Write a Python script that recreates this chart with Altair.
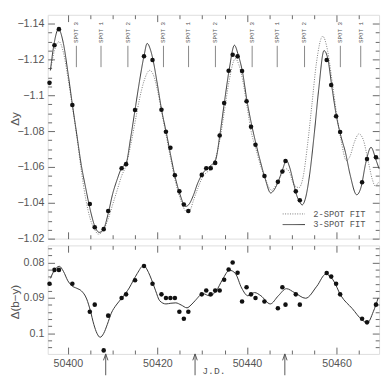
import altair as alt
import pandas as pd

# ---------------- data ----------------
obs_jd = [50395.9, 50397.0, 50398.0, 50401.0, 50404.9, 50406.0, 50408.0, 50409.0, 50412.0, 50413.0,
          50415.0, 50417.0, 50418.9, 50420.9, 50421.9, 50422.9, 50423.9, 50424.9, 50425.9, 50426.9,
          50429.9, 50430.9, 50431.9, 50432.9, 50433.9, 50434.9, 50435.9, 50436.8, 50437.9, 50438.9,
          50439.9, 50440.9, 50441.9, 50443.9, 50446.9, 50447.9, 50448.6, 50450.9, 50451.8, 50457.8,
          50458.8, 50459.9, 50460.8, 50465.7, 50466.8, 50468.8]
obs_dy = [-1.107, -1.128, -1.137, -1.0946, -1.0393, -1.0264, -1.0253, -1.0354, -1.0593, -1.0616,
          -1.0918, -1.1219, -1.1198, -1.092, -1.0797, -1.0707, -1.0554, -1.0464, -1.0391, -1.0354,
          -1.0556, -1.0593, -1.0593, -1.0623, -1.0776, -1.0957, -1.1138, -1.1227, -1.1218, -1.1136,
          -1.0967, -1.0825, -1.0724, -1.055, -1.0517, -1.0575, -1.0634, -1.0464, -1.0414, -1.1198,
          -1.1058, -1.0884, -1.0796, -1.0515, -1.0645, -1.0654]
obs_by = [0.0860, 0.0821, 0.0821, 0.0860, 0.0939, 0.0919, 0.1048, 0.0950, 0.0900, 0.0890,
          0.0850, 0.0810, 0.0860, 0.0890, 0.0900, 0.0900, 0.0900, 0.0939, 0.0959, 0.0939,
          0.0890, 0.0879, 0.0890, 0.0879, 0.0879, 0.0849, 0.0820, 0.0800, 0.0829, 0.0910,
          0.0870, 0.0890, 0.0900, 0.0910, 0.0929, 0.0870, 0.0919, 0.0890, 0.0919, 0.0830,
          0.0840, 0.0860, 0.0890, 0.0959, 0.0969, 0.0919]

# 3-spot fit (solid)
fit3_jd = [50396.1, 50397.0, 50397.9, 50399.0, 50400.0, 50401.0, 50402.0, 50403.0, 50404.0, 50405.0,
           50406.0, 50407.0, 50408.0, 50409.0, 50410.0, 50411.0, 50412.0, 50413.0, 50414.0, 50415.0,
           50416.0, 50417.0, 50417.7, 50418.5, 50419.0, 50420.0, 50421.0, 50422.0, 50423.0, 50424.0,
           50425.0, 50426.3, 50427.0, 50428.0, 50429.0, 50430.0, 50431.0, 50432.0, 50433.0, 50434.0,
           50435.0, 50436.0, 50437.2, 50438.0, 50439.0, 50440.0, 50441.0, 50442.0, 50443.0, 50444.0,
           50445.3, 50446.0, 50447.0, 50448.0, 50448.8, 50449.5, 50450.5, 50451.0, 50451.9, 50452.3,
           50453.0, 50454.0, 50455.0, 50456.0, 50457.2, 50458.0, 50459.0, 50460.0, 50461.0, 50462.0,
           50463.0, 50464.5, 50465.5, 50466.5, 50467.7, 50468.8, 50469.5]
fit3_dy = [-1.114, -1.130, -1.137, -1.129, -1.113, -1.095, -1.078, -1.061, -1.048, -1.036,
           -1.027, -1.0235, -1.0255, -1.034, -1.045, -1.053, -1.0595, -1.062, -1.076, -1.092,
           -1.108, -1.122, -1.129, -1.125, -1.120, -1.106, -1.091, -1.079, -1.066, -1.054,
           -1.045, -1.038, -1.039, -1.044, -1.051, -1.056, -1.059, -1.061, -1.064, -1.079,
           -1.097, -1.114, -1.128, -1.123, -1.113, -1.097, -1.084, -1.073, -1.063, -1.054,
           -1.0455, -1.047, -1.052, -1.059, -1.0638, -1.060, -1.050, -1.045, -1.040, -1.0388,
           -1.042, -1.056, -1.078, -1.103, -1.125, -1.121, -1.104, -1.088, -1.077, -1.068,
           -1.056, -1.0445, -1.049, -1.062, -1.071, -1.064, -1.059]

# 2-spot fit (dotted)
fit2_jd = [50396.1, 50397.0, 50398.0, 50399.0, 50400.0, 50401.0, 50402.0, 50403.0, 50404.0, 50405.0,
           50406.0, 50406.8, 50408.0, 50409.0, 50410.0, 50411.0, 50412.0, 50413.0, 50414.0, 50415.0,
           50416.0, 50417.0, 50418.3, 50419.0, 50420.0, 50421.0, 50422.0, 50423.0, 50424.0, 50425.0,
           50426.6, 50427.3, 50428.0, 50429.0, 50430.0, 50431.0, 50432.0, 50433.0, 50434.0, 50435.0,
           50436.0, 50437.4, 50438.2, 50439.0, 50440.0, 50441.0, 50442.0, 50443.0, 50444.0, 50445.5,
           50446.5, 50447.5, 50448.8, 50449.5, 50450.5, 50451.6, 50452.5, 50453.5, 50454.5, 50455.5,
           50456.9, 50458.0, 50459.0, 50460.0, 50461.0, 50462.2, 50463.0, 50464.0, 50465.0, 50466.0,
           50467.0, 50468.0, 50468.6, 50469.5]
fit2_dy = [-1.114, -1.125, -1.130, -1.124, -1.110, -1.094, -1.077, -1.058, -1.042, -1.031,
           -1.025, -1.0225, -1.025, -1.031, -1.039, -1.047, -1.055, -1.061, -1.072, -1.085,
           -1.098, -1.108, -1.114, -1.112, -1.103, -1.090, -1.077, -1.064, -1.052, -1.043,
           -1.035, -1.036, -1.041, -1.048, -1.054, -1.057, -1.059, -1.065, -1.076, -1.092,
           -1.108, -1.1205, -1.117, -1.109, -1.094, -1.079, -1.070, -1.061, -1.054, -1.047,
           -1.050, -1.055, -1.059, -1.057, -1.050, -1.0485, -1.054, -1.072, -1.095, -1.118,
           -1.133, -1.125, -1.108, -1.090, -1.075, -1.0636, -1.066, -1.074, -1.0785, -1.075,
           -1.064, -1.053, -1.0495, -1.052]

# fit of the colour index (solid)
byfit_jd = [50396.1, 50397.0, 50398.1, 50399.0, 50400.0, 50400.8, 50402.0, 50403.0, 50404.2, 50405.0,
            50405.8, 50406.5, 50407.2, 50408.0, 50408.8, 50409.7, 50410.8, 50411.9, 50413.0, 50413.7,
            50414.6, 50415.5, 50416.9, 50418.0, 50418.7, 50419.6, 50420.5, 50421.9, 50423.0, 50424.1,
            50425.3, 50426.6, 50427.5, 50428.4, 50430.2, 50431.6, 50433.1, 50434.5, 50436.1, 50437.4,
            50438.8, 50440.2, 50441.7, 50443.1, 50445.2, 50447.0, 50448.8, 50450.6, 50453.1, 50455.6,
            50457.6, 50459.2, 50461.0, 50463.5, 50465.7, 50466.9, 50468.2, 50469.3]
byfit_val = [0.0845, 0.0822, 0.0811, 0.0825, 0.0852, 0.0865, 0.0873, 0.0880, 0.0903, 0.0935,
             0.0975, 0.1000, 0.1011, 0.1000, 0.0975, 0.0943, 0.0920, 0.0903, 0.0885, 0.0872,
             0.0851, 0.0831, 0.0809, 0.0828, 0.0849, 0.0880, 0.0908, 0.0917, 0.0915, 0.0914,
             0.0920, 0.0928, 0.0920, 0.0908, 0.0888, 0.0894, 0.0881, 0.0849, 0.0822, 0.0831,
             0.0872, 0.0894, 0.0885, 0.0894, 0.0917, 0.0894, 0.0874, 0.0885, 0.0901, 0.0867,
             0.0833, 0.0849, 0.0894, 0.0930, 0.0962, 0.0970, 0.0939, 0.0900]

spot_names = ["SPOT 3", "SPOT 1", "SPOT 2", "SPOT 3", "SPOT 1", "SPOT 2",
              "SPOT 3", "SPOT 1", "SPOT 2", "SPOT 3", "SPOT 1"]
spot_jd = [50401.9, 50407.4, 50413.4, 50421.35, 50426.95, 50432.95,
           50441.15, 50446.75, 50452.85, 50460.85, 50465.4]

arrow_jd = [50408.45, 50428.4, 50448.45]

fit_names = ["2-SPOT FIT", "3-SPOT FIT"]

x_labels = [50400, 50420, 50440, 50460]
x_ticks = [50400, 50405, 50410, 50415, 50420, 50425, 50430, 50435, 50440, 50445,
           50450, 50455, 50460, 50465]
dy_labels = [-1.14, -1.12, -1.1, -1.08, -1.06, -1.04, -1.02]
dy_ticks = [-1.14, -1.135, -1.13, -1.125, -1.12, -1.115, -1.11, -1.105, -1.1, -1.095,
            -1.09, -1.085, -1.08, -1.075, -1.07, -1.065, -1.06, -1.055, -1.05, -1.045,
            -1.04, -1.035, -1.03, -1.025, -1.02]
by_labels = [0.08, 0.09, 0.1]
by_ticks = [0.076, 0.078, 0.08, 0.082, 0.084, 0.086, 0.088, 0.09, 0.092, 0.094,
            0.096, 0.098, 0.1, 0.102, 0.104]

# ---------------- tables ----------------
obs = pd.DataFrame({"jd": obs_jd, "dy": obs_dy, "by": obs_by})
fits = pd.concat([
    pd.DataFrame({"jd": fit2_jd, "val": fit2_dy, "fit": fit_names[0]}),
    pd.DataFrame({"jd": fit3_jd, "val": fit3_dy, "fit": fit_names[1]}),
], ignore_index=True)
byfit = pd.DataFrame({"jd": byfit_jd, "val": byfit_val})
spots = pd.DataFrame({"jd": spot_jd, "name": spot_names})
arrows = pd.DataFrame({"jd": arrow_jd})

# ---------------- styling ----------------
W, H1, H2 = 342, 231, 112
TXT = "#555"
TICK = "#666"
SANS = "Liberation Sans"
MONO = "Liberation Mono"

xs = alt.Scale(domain=[50395.5, 50469.5], nice=False, zero=False)
ys1 = alt.Scale(domain=[-1.145, -1.02], nice=False, zero=False, reverse=True)
ys2 = alt.Scale(domain=[0.0752, 0.1058], nice=False, zero=False, reverse=True)

XTEST = "datum.value % 20 == 0"
Y1TEST = "abs(datum.value * 50 - round(datum.value * 50)) < 0.01"
Y2TEST = "abs(datum.value * 100 - round(datum.value * 100)) < 0.01"


def tick_axis(orient, offset, values, test):
    return alt.Axis(orient=orient, offset=offset, values=values, labels=False,
                    domain=False, grid=False, title=None, ticks=True,
                    tickColor=TICK, tickWidth=1,
                    tickSize={"condition": {"test": test, "value": 7}, "value": 4})


def ylabel_axis(values, title, title_y):
    return alt.Axis(orient="left", values=values, format=".3~r", ticks=False,
                    domain=False, grid=False, labelPadding=4, labelFont=SANS,
                    labelFontSize=11, labelColor=TXT, labelFlush=False,
                    labelOverlap=False, title=title, titleX=-34, titleY=title_y,
                    titleAngle=270, titleAlign="center", titleBaseline="middle",
                    titleFont=SANS, titleFontSize=12, titleFontWeight="normal",
                    titleColor=TXT)


legend = alt.Legend(orient="none", legendX=248.5, legendY=200, title=None,
                    symbolType="M-2.3,0L2.3,0", symbolSize=100, symbolStrokeWidth=1,
                    labelFont=MONO, labelFontSize=9, labelColor=TXT,
                    labelOffset=14.5, rowPadding=0, padding=0)

dash_scale = alt.Scale(domain=fit_names, range=[[1, 1.5], [1, 0]])
col_scale = alt.Scale(domain=fit_names, range=["#777777", "#333333"])

# ---------------- top panel ----------------
t_lines = alt.Chart(fits).mark_line(interpolate="monotone", strokeWidth=1).encode(
    x=alt.X("jd:Q", scale=xs, axis=tick_axis("bottom", -H1, x_ticks, XTEST)),
    y=alt.Y("val:Q", scale=ys1, axis=ylabel_axis(dy_labels, "Δy", 107)),
    strokeDash=alt.StrokeDash("fit:N", scale=dash_scale, legend=legend),
    color=alt.Color("fit:N", scale=col_scale, legend=legend),
)
t_pts = alt.Chart(obs).mark_circle(size=22, color="#111", opacity=1).encode(
    x=alt.X("jd:Q", scale=xs, axis=tick_axis("top", -H1, x_ticks, XTEST)),
    y=alt.Y("dy:Q", scale=ys1, axis=tick_axis("right", -W, dy_ticks, Y1TEST)),
)
t_pts_r = alt.Chart(obs).mark_circle(size=22, opacity=0).encode(
    x=alt.X("jd:Q", scale=xs, axis=None),
    y=alt.Y("dy:Q", scale=ys1, axis=tick_axis("left", -W, dy_ticks, Y1TEST)),
)
t_spot_rule = alt.Chart(spots).mark_rule(color=TICK, strokeWidth=0.8).encode(
    x=alt.X("jd:Q", scale=xs, axis=None),
    y=alt.value(32), y2=alt.value(54),
)
t_spot_text = alt.Chart(spots).mark_text(angle=270, align="left", baseline="middle",
                                         font=MONO, fontSize=6, color=TXT).encode(
    x=alt.X("jd:Q", scale=xs, axis=None),
    y=alt.value(29),
    text="name:N",
)
top = alt.layer(t_lines, t_pts, t_pts_r, t_spot_rule, t_spot_text).resolve_axis(
    x="independent", y="independent").properties(width=W, height=H1)

# ---------------- bottom panel ----------------
b_line = alt.Chart(byfit).mark_line(interpolate="monotone", strokeWidth=1, color="#333").encode(
    x=alt.X("jd:Q", scale=xs,
            axis=alt.Axis(orient="bottom", values=x_labels, format="d", ticks=False,
                          domain=False, grid=False, labelPadding=4, labelFont=SANS,
                          labelFontSize=11, labelColor=TXT, labelFlush=False,
                          labelOverlap=False, title="J.D.", titleFont=MONO,
                          titleFontSize=10, titleFontWeight="normal", titleColor=TXT,
                          titleY=17, titleBaseline="middle")),
    y=alt.Y("val:Q", scale=ys2, axis=ylabel_axis(by_labels, "Δ(b−y)", 58)),
)
b_pts = alt.Chart(obs).mark_circle(size=22, color="#111", opacity=1).encode(
    x=alt.X("jd:Q", scale=xs, axis=tick_axis("top", -H2, x_ticks, XTEST)),
    y=alt.Y("by:Q", scale=ys2, axis=tick_axis("right", -W, by_ticks, Y2TEST)),
)
b_pts_r = alt.Chart(obs).mark_circle(size=22, opacity=0).encode(
    x=alt.X("jd:Q", scale=xs, axis=tick_axis("bottom", -H2, x_ticks, XTEST)),
    y=alt.Y("by:Q", scale=ys2, axis=tick_axis("left", -W, by_ticks, Y2TEST)),
)
b_arrows = alt.Chart(arrows).mark_point(
    shape="M0,-1L0,1M-0.21,-0.4L0,-1L0.21,-0.4", size=484, filled=False,
    color=TXT, strokeWidth=1, opacity=1).encode(
    x=alt.X("jd:Q", scale=xs, axis=None),
    y=alt.value(H2 + 11),
)
bottom = alt.layer(b_line, b_pts, b_pts_r, b_arrows).resolve_axis(
    x="independent", y="independent").properties(width=W, height=H2)

chart = alt.vconcat(top, bottom, spacing=0).properties(
    padding={"left": 0, "top": 0, "right": 0, "bottom": 0}
).configure_view(stroke="#777", strokeWidth=1).configure(background="white")

chart.save("out.html", embed_options={"renderer": "svg", "actions": False})
